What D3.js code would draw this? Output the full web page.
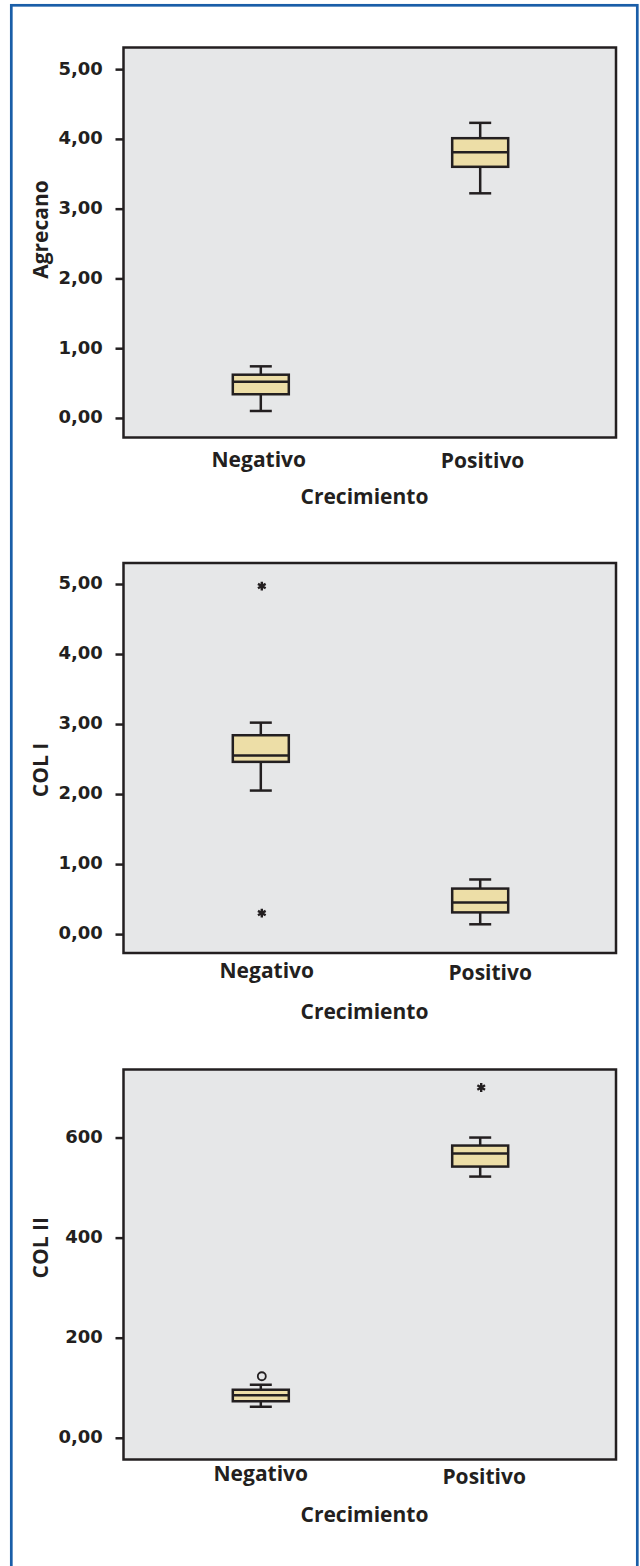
<!DOCTYPE html>
<html>
<head>
<meta charset="utf-8">
<script src="https://cdn.jsdelivr.net/npm/d3@7"></script>
<style>
  body { margin: 0; background: #fff; }
</style>
</head>
<body>
<div id="chart"></div>
<script>
// data
const categories = ["Negativo", "Positivo"];
// [lower whisker, Q1, median, Q3, upper whisker], one per category
const agrecanoBoxes = [[0.10, 0.34, 0.52, 0.62, 0.74], [3.22, 3.60, 3.81, 4.01, 4.23]];
const col1Boxes = [[2.05, 2.46, 2.55, 2.84, 3.02], [0.14, 0.31, 0.45, 0.65, 0.78]];
const col2Boxes = [[62, 73, 85, 96, 106], [522, 542, 568, 584, 600]];
// [category, value, kind]  kind: "extreme" = *, "outlier" = o
const agrecanoOutliers = [];
const col1Outliers = [["Negativo", 4.97, "extreme"], ["Negativo", 0.30, "extreme"]];
const col2Outliers = [["Negativo", 123, "outlier"], ["Positivo", 700, "extreme"]];
const unitTicks = [0, 1, 2, 3, 4, 5];
const unitTickLabels = ["0,00", "1,00", "2,00", "3,00", "4,00", "5,00"];
const col2Ticks = [0, 200, 400, 600];
const col2TickLabels = ["0,00", "200", "400", "600"];
const xTitle = "Crecimiento";

const width = 640;
const height = 1566;
const left = 123.5, right = 616;
const plotH = 390;
const ink = "#231f20";

const panels = [
  { title: "Agrecano", boxes: agrecanoBoxes, outliers: agrecanoOutliers, ticks: unitTicks,
    tickLabels: unitTickLabels, domain: [-0.28, 5.31], top: 47.5,
    catDy: [29, 30.3], catDx: [-2, 2.4], xTitleDy: 66, titleDy: -13 },
  { title: "COL I", boxes: col1Boxes, outliers: col1Outliers, ticks: unitTicks,
    tickLabels: unitTickLabels, domain: [-0.27, 5.30], top: 563,
    catDy: [24.5, 26.7], catDx: [6, 10], xTitleDy: 66, titleDy: 12 },
  { title: "COL II", boxes: col2Boxes, outliers: col2Outliers, ticks: col2Ticks,
    tickLabels: col2TickLabels, domain: [-43.4, 736], top: 1069.5,
    catDy: [21.7, 24.3], catDx: [0, 4], xTitleDy: 62.7, titleDy: -16.7 }
];

const svg = d3.select("#chart").append("svg")
    .attr("width", width)
    .attr("height", height);

// blue frame round the figure
svg.append("rect")
    .attr("x", 11.3).attr("y", 5.3)
    .attr("width", 626).attr("height", 1600)
    .attr("fill", "none")
    .attr("stroke", "#1a5ea8")
    .attr("stroke-width", 2.7);

const x = d3.scalePoint().domain(categories).range([125, right]).padding(0.619);
const boxW = 56, capW = 22;

panels.forEach(p => {
  const bottom = p.top + plotH;
  const y = d3.scaleLinear().domain(p.domain).range([bottom, p.top]);
  const g = svg.append("g");

  g.append("rect")
      .attr("x", left).attr("y", p.top)
      .attr("width", right - left).attr("height", plotH)
      .attr("fill", "#e6e7e8")
      .attr("stroke", ink)
      .attr("stroke-width", 2.5);

  // y axis
  const yaxis = d3.axisLeft(y)
      .tickValues(p.ticks)
      .tickFormat((d, i) => p.tickLabels[i])
      .tickSize(8)
      .tickPadding(12.7);
  const ag = g.append("g")
      .attr("transform", "translate(" + left + ",0)")
      .call(yaxis);
  ag.select(".domain").remove();
  ag.selectAll(".tick line").attr("stroke", ink).attr("stroke-width", 2.5);
  ag.selectAll(".tick text")
      .attr("fill", ink)
      .attr("dy", "0.27em")
      .style("font-family", "DejaVu Sans")
      .style("font-weight", "bold")
      .style("font-size", "18px");

  g.append("text")
      .attr("transform", "translate(48," + ((p.top + bottom) / 2 + p.titleDy) + ") rotate(-90)")
      .attr("text-anchor", "middle")
      .attr("fill", ink)
      .style("font-family", "Open Sans")
      .style("font-weight", "bold")
      .style("font-size", "21px")
      .text(p.title);

  // boxes
  p.boxes.forEach((b, i) => {
    const cx = x(categories[i]);
    const bg = g.append("g").attr("stroke", ink).attr("stroke-width", 2.5);
    bg.append("line").attr("x1", cx).attr("x2", cx).attr("y1", y(b[0])).attr("y2", y(b[1]));
    bg.append("line").attr("x1", cx).attr("x2", cx).attr("y1", y(b[3])).attr("y2", y(b[4]));
    bg.append("line").attr("x1", cx - capW / 2).attr("x2", cx + capW / 2).attr("y1", y(b[0])).attr("y2", y(b[0]));
    bg.append("line").attr("x1", cx - capW / 2).attr("x2", cx + capW / 2).attr("y1", y(b[4])).attr("y2", y(b[4]));
    bg.append("rect")
        .attr("x", cx - boxW / 2).attr("width", boxW)
        .attr("y", y(b[3])).attr("height", y(b[1]) - y(b[3]))
        .attr("fill", "#eddea7");
    bg.append("line").attr("x1", cx - boxW / 2).attr("x2", cx + boxW / 2).attr("y1", y(b[2])).attr("y2", y(b[2]));
  });

  // outliers
  p.outliers.forEach(o => {
    const cx = x(o[0]) + 1, cy = y(o[1]);
    if (o[2] === "extreme") {
      g.append("path")
          .attr("transform", "translate(" + cx + "," + cy + ")")
          .attr("d", d3.symbol(d3.symbolAsterisk, 55)())
          .attr("fill", "none")
          .attr("stroke", ink)
          .attr("stroke-width", 2.4);
    } else {
      g.append("circle")
          .attr("cx", cx).attr("cy", cy).attr("r", 4)
          .attr("fill", "none")
          .attr("stroke", ink)
          .attr("stroke-width", 1.8);
    }
  });

  // category labels and x title
  categories.forEach((c, i) => {
    g.append("text")
        .attr("x", x(c) + p.catDx[i])
        .attr("y", bottom + p.catDy[i])
        .attr("text-anchor", "middle")
        .attr("fill", ink)
        .style("font-family", "Open Sans")
        .style("font-weight", "bold")
        .style("font-size", "21px")
        .text(c);
  });
  g.append("text")
      .attr("x", 364.5)
      .attr("y", bottom + p.xTitleDy)
      .attr("text-anchor", "middle")
      .attr("fill", ink)
      .style("font-family", "Open Sans")
      .style("font-weight", "bold")
      .style("font-size", "21px")
      .text(xTitle);
});
</script>
</body>
</html>
